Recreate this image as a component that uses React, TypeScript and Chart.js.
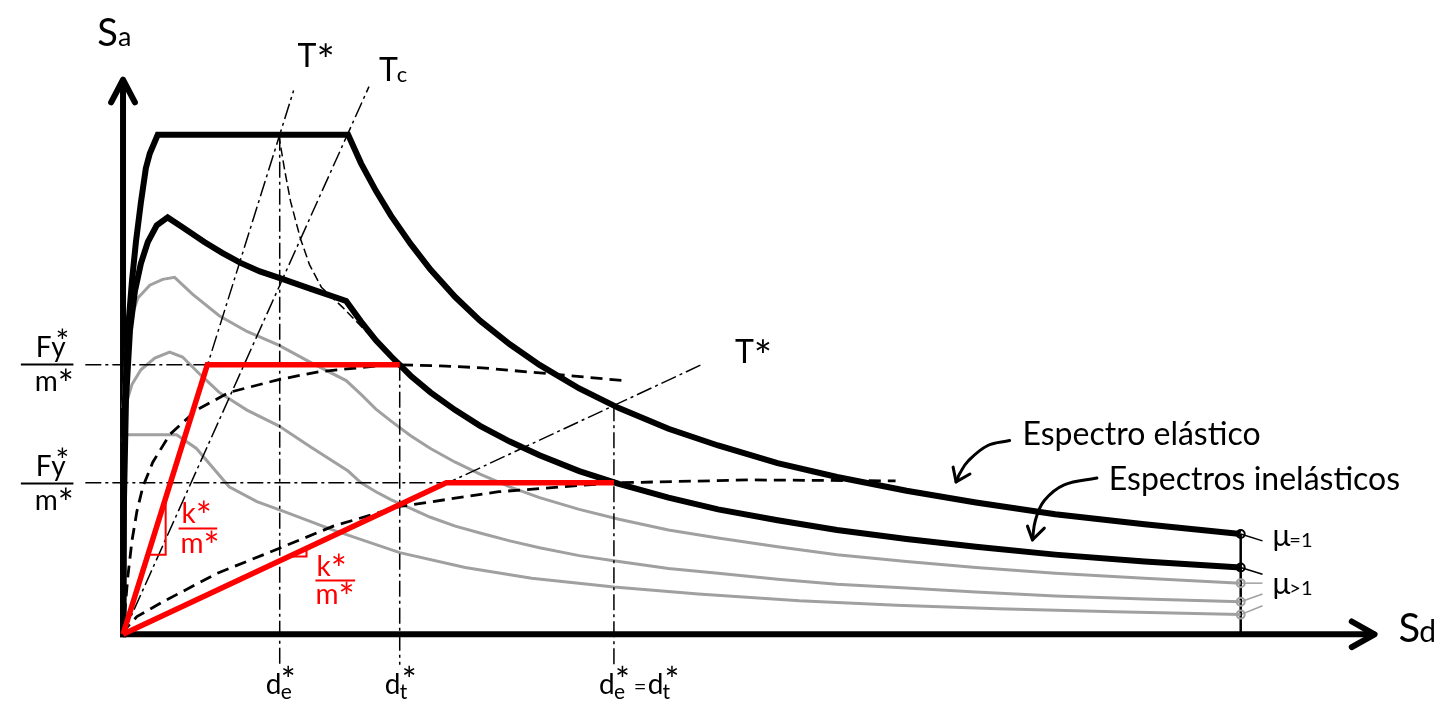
import React, { useEffect, useRef } from "react";
import { Chart, registerables } from "chart.js";

Chart.register(...registerables);

type P = [number, number];

// Axis frame (Sd horizontal, Sa vertical; arbitrary units)
const sdMin = -118;
const sdMax = 1332;
const saMin = -76;
const saMax = 639;

// Spectra
const elasticSpectrum: P[] = [[0,0],[0.5,139],[2,239],[5,309],[9,359],[13,399],[18,439],[23,474],[27,489],[35,508],[227,508],[240,479],[255,451],[270,426],[290,397],[310,371],[335,343],[360,319],[390,295],[420,274],[460,250],[500,230],[550,209],[600,192],[660,174],[720,160],[790,146],[860,134],[940,122],[1030,112],[1127,102]];
const inelasticSpectrum: P[] = [[0,0],[1,139],[3,239],[7,309],[12,349],[18,377],[25,399],[34,416],[45,424],[60,414],[82,399],[100,388],[118,378],[138,369],[159,362],[190,351],[225,339],[240,318],[255,299],[270,283],[290,263],[310,246],[335,228],[360,212],[390,196],[420,182],[460,166],[500,153],[550,139],[600,127],[660,116],[720,106],[790,97],[860,89],[940,81],[1030,74],[1127,68]];
const greySpectrum1: P[] = [[0,230],[1,249],[3,289],[8,321],[15,342],[27,355],[40,361],[52,363],[70,346],[97,324],[125,308],[157,294],[190,276],[225,258],[240,244],[255,229],[270,217],[290,202],[310,189],[335,175],[360,163],[390,150],[420,139],[460,127],[500,117],[550,106],[600,98],[660,89],[720,81],[790,74],[860,68],[940,62],[1030,57],[1127,52]];
const greySpectrum2: P[] = [[0,195],[1,209],[3,234],[9,254],[18,269],[32,281],[47,287],[60,282],[78,264],[97,246],[125,228],[157,212],[190,190],[227,166],[240,154],[255,145],[270,137],[290,128],[310,119],[335,110],[360,103],[390,95],[420,88],[460,80],[500,74],[550,67],[600,62],[660,56],[720,51],[790,47],[860,43],[940,39],[1030,36],[1127,33]];
const greySpectrum3: P[] = [[0,203],[54,203],[74,189],[107,150],[135,135],[162,125],[212,106],[279,83],[345,68],[412,57],[495,48],[580,41],[682,34],[780,29.5],[882,26],[1000,23],[1127,20]];

// Demand (dashed) curves
const demandUpper: P[] = [[0,0],[2,25],[5,60],[9,95],[14,125],[20,150],[30,175],[47,203],[74,228],[107,246],[157,259],[197,267],[257,273],[279,274],[320,273],[362,271],[429,265],[505,258]];
const demandLower: P[] = [[0,0],[4,7],[14,18],[42,34],[95,62],[159,88],[212,110],[279,130],[379,145],[495,154],[632,157],[779,156]];
const thinCurve: P[] = [[157,508],[163,472],[169,440],[179,402],[188,376],[200,353],[222,332],[245,308],[265,289]];

// Capacity (bilinear) curves
const capacityUpper: P[] = [[0,0],[85,274],[279,274]];
const capacityLower: P[] = [[0,0],[326,154],[495,154]];
const slopeMarkUpper: P[] = [[25,81],[43,81],[43,139]];
const slopeMarkLower: P[] = [[168,79],[185,79],[185,87]];

// Period lines
const periodTStarSteep: P[] = [[0,0],[172,553]];
const periodTc: P[] = [[0,0],[248,557]];
const periodTStarShallow: P[] = [[0,0],[585,275]];

// Reference displacements / forces
const deStar = 158;
const dtStar = 279;
const deEqualsDt = 495;
const fyUpper = 274;
const fyLower = 154;
const guideBottom = -31;

// End-of-spectrum markers
const muSd = 1127;
const muBlackLevels = [102, 68];
const muGreyLevels = [52, 33, 20];
const muBlackLeaderEnds: P[] = [[1149,95],[1149,61]];
const muGreyLeaderEnds: P[] = [[1149,52],[1149,41],[1149,29]];

// Curved callout arrows
const arrowElastic: P[] = [[894,197],[872,192],[852,176],[844,164],[840,155]];
const arrowElasticHead: P[] = [[837,170],[840,155],[854,163]];
const arrowInelastic: P[] = [[982,159],[949,152],[929,136],[920,116],[917,96]];
const arrowInelasticHead: P[] = [[912,110],[917,96],[929,108]];

// Axes
const yAxisLine: P[] = [[0,-3],[0,562]];
const yAxisHead: P[] = [[-12,541],[0,564],[12,541]];
const xAxisLine: P[] = [[-3,0],[1260,0]];
const xAxisHead: P[] = [[1239,13],[1262,0],[1239,-13]];

const BLACK = "#000000";
const RED = "#ff0000";
const GREY = "#a0a0a0";
const DASHDOT = [16, 4, 3, 4];
const FONT = 'Lato, "Noto Sans", sans-serif';

function line(data: P[], color: string, width: number, dash: number[] = [], extra: any = {}) {
  return {
    data: data.map(([x, y]) => ({ x, y })),
    showLine: true,
    borderColor: color,
    borderWidth: width,
    borderDash: dash,
    pointRadius: 0,
    pointHoverRadius: 0,
    tension: 0,
    fill: false,
    clip: false,
    ...extra,
  };
}

type Label = { t: string; x: number; y: number; s: number; c?: string };
const labels: Label[] = [
  { t: "S", x: -26, y: 598, s: 38 },
  { t: "a", x: -5, y: 598, s: 27 },
  { t: "T*", x: 176, y: 577, s: 32 },
  { t: "T", x: 258, y: 563, s: 32 },
  { t: "c", x: 276, y: 562, s: 22 },
  { t: "T*", x: 617, y: 276, s: 32 },
  { t: "Fy", x: -88, y: 282, s: 28 },
  { t: "*", x: -68, y: 292, s: 24 },
  { t: "m*", x: -89, y: 247, s: 28 },
  { t: "Fy", x: -88, y: 161, s: 28 },
  { t: "*", x: -68, y: 171, s: 24 },
  { t: "m*", x: -89, y: 126, s: 28 },
  { t: "k*", x: 59, y: 113, s: 28, c: RED },
  { t: "m*", x: 58, y: 83, s: 28, c: RED },
  { t: "k*", x: 195, y: 59, s: 28, c: RED },
  { t: "m*", x: 194, y: 31, s: 28, c: RED },
  { t: "d", x: 144, y: -61, s: 28 },
  { t: "e", x: 159, y: -66, s: 21 },
  { t: "*", x: 159, y: -52, s: 26 },
  { t: "d", x: 264, y: -61, s: 28 },
  { t: "t", x: 279, y: -66, s: 21 },
  { t: "*", x: 281, y: -52, s: 26 },
  { t: "d", x: 480, y: -61, s: 28 },
  { t: "e", x: 495, y: -66, s: 21 },
  { t: "*", x: 496, y: -52, s: 26 },
  { t: "=", x: 515, y: -61, s: 22 },
  { t: "d", x: 529, y: -61, s: 28 },
  { t: "t", x: 544, y: -66, s: 21 },
  { t: "*", x: 546, y: -52, s: 26 },
  { t: "S", x: 1286, y: -8, s: 40 },
  { t: "d", x: 1307, y: -8, s: 30 },
  { t: "μ", x: 1159, y: 90, s: 30 },
  { t: "=1", x: 1176, y: 89, s: 20 },
  { t: "μ", x: 1159, y: 41, s: 30 },
  { t: ">1", x: 1176, y: 40, s: 20 },
  { t: "Espectro elástico", x: 907, y: 192, s: 32 },
  { t: "Espectros inelásticos", x: 994, y: 147, s: 32 },
];
const fractionBars: { x0: number; x1: number; y: number; c: string }[] = [
  { x0: -103, x1: -50, y: 275, c: BLACK },
  { x0: -103, x1: -50, y: 154, c: BLACK },
  { x0: 56, x1: 95, y: 108, c: RED },
  { x0: 194, x1: 234, y: 55, c: RED },
];

// draws text; asterisks are drawn larger and top-aligned with the capitals
function drawLabel(ctx: CanvasRenderingContext2D, text: string, px: number, py: number, s: number) {
  let x = px;
  const parts = text.split(/(\*)/).filter((p) => p.length > 0);
  for (const part of parts) {
    if (part === "*") {
      const ss = s * 1.35;
      ctx.font = `${ss}px ${FONT}`;
      ctx.fillText("*", x, py + 0.25 * s);
      x += ctx.measureText("*").width;
    } else {
      ctx.font = `${s}px ${FONT}`;
      ctx.fillText(part, x, py);
      x += ctx.measureText(part).width;
    }
  }
}

const labelPlugin = {
  id: "labels",
  afterDatasetsDraw(chart: any) {
    const { ctx, scales } = chart;
    const xs = scales.x;
    const ys = scales.y;
    ctx.save();
    ctx.textBaseline = "alphabetic";
    ctx.textAlign = "left";
    for (const l of labels) {
      ctx.fillStyle = l.c || BLACK;
      drawLabel(ctx, l.t, xs.getPixelForValue(l.x), ys.getPixelForValue(l.y), l.s);
    }
    for (const b of fractionBars) {
      ctx.strokeStyle = b.c;
      ctx.lineWidth = 2;
      ctx.beginPath();
      const yy = Math.round(ys.getPixelForValue(b.y)) + 0.5;
      ctx.moveTo(xs.getPixelForValue(b.x0), yy);
      ctx.lineTo(xs.getPixelForValue(b.x1), yy);
      ctx.stroke();
    }
    ctx.restore();
  },
};

export default function App() {
  const ref = useRef<HTMLCanvasElement>(null);
  useEffect(() => {
    const canvas = ref.current;
    if (!canvas) return;
    const round = { borderCapStyle: "round", borderJoinStyle: "round" };
    const datasets: any[] = [
      line(capacityUpper, RED, 5.5, [], { borderJoinStyle: "miter" }),
      line(capacityLower, RED, 5.5, [], { borderJoinStyle: "miter" }),
      line(slopeMarkUpper, RED, 2),
      line(slopeMarkLower, RED, 2),
      {
        data: muBlackLevels.map((v) => ({ x: muSd, y: v })),
        showLine: false, pointRadius: 4, pointBorderWidth: 2,
        pointBorderColor: BLACK, pointBackgroundColor: "rgba(0,0,0,0)", clip: false,
      },
      {
        data: muGreyLevels.map((v) => ({ x: muSd, y: v })),
        showLine: false, pointRadius: 4, pointBorderWidth: 2,
        pointBorderColor: GREY, pointBackgroundColor: "rgba(0,0,0,0)", clip: false,
      },
      line(elasticSpectrum, BLACK, 6),
      line(inelasticSpectrum, BLACK, 6),
      line(demandUpper, BLACK, 2.8, [12, 7]),
      line(demandLower, BLACK, 2.8, [12, 7]),
      line(thinCurve, BLACK, 1.5, [9, 4]),
      line(periodTStarSteep, BLACK, 1.5, DASHDOT),
      line(periodTc, BLACK, 1.5, DASHDOT),
      line(periodTStarShallow, BLACK, 1.5, DASHDOT),
      line([[deStar, 508], [deStar, guideBottom]], BLACK, 1.5, DASHDOT),
      line([[dtStar, fyUpper], [dtStar, guideBottom]], BLACK, 1.5, DASHDOT),
      line([[deEqualsDt, 233], [deEqualsDt, guideBottom]], BLACK, 1.5, DASHDOT),
      line([[-38, fyUpper], [85, fyUpper]], BLACK, 1.5, DASHDOT),
      line([[-38, fyLower], [326, fyLower]], BLACK, 1.5, DASHDOT),
      line(greySpectrum1, GREY, 3),
      line(greySpectrum2, GREY, 3),
      line(greySpectrum3, GREY, 3),
      line([[muSd, 0], [muSd, muBlackLevels[0]]], BLACK, 2.5),
      ...muBlackLevels.map((v, i) => line([[muSd, v], muBlackLeaderEnds[i]], BLACK, 1.5)),
      ...muGreyLevels.map((v, i) => line([[muSd, v], muGreyLeaderEnds[i]], GREY, 1.5)),
      line(arrowElastic, BLACK, 3, [], { tension: 0.4, ...round }),
      line(arrowElasticHead, BLACK, 3, [], round),
      line(arrowInelastic, BLACK, 3, [], { tension: 0.4, ...round }),
      line(arrowInelasticHead, BLACK, 3, [], round),
      line(yAxisLine, BLACK, 6),
      line(yAxisHead, BLACK, 6, [], round),
      line(xAxisLine, BLACK, 6),
      line(xAxisHead, BLACK, 6, [], round),
    ];
    const chart = new Chart(canvas, {
      type: "scatter",
      data: { datasets },
      options: {
        animation: false,
        responsive: false,
        devicePixelRatio: 1,
        events: [],
        layout: { padding: 0 },
        plugins: { legend: { display: false }, tooltip: { enabled: false } },
        scales: {
          x: { type: "linear", min: sdMin, max: sdMax, display: false, bounds: "data" },
          y: { type: "linear", min: saMin, max: saMax, display: false, bounds: "data" },
        },
      } as any,
      plugins: [labelPlugin],
    });
    return () => chart.destroy();
  }, []);
  return (
    <div style={{ position: "fixed", left: 0, top: 0, width: 1450, height: 715, background: "#ffffff" }}>
      <canvas ref={ref} width={1450} height={715} style={{ display: "block" }} />
    </div>
  );
}
